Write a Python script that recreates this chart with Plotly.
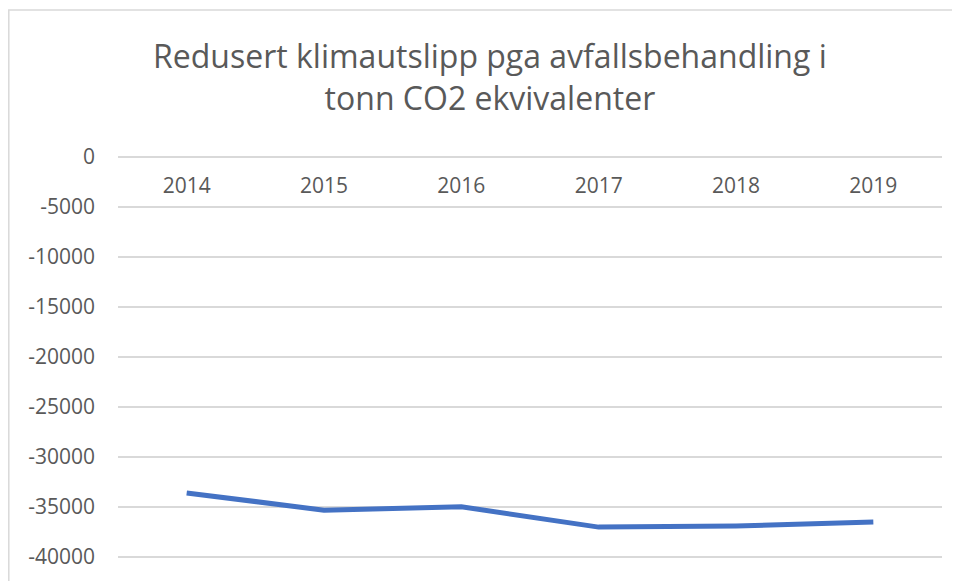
import plotly.graph_objects as go

years = ["2014", "2015", "2016", "2017", "2018", "2019"]
values = [-33640, -35370, -35030, -37060, -36960, -36560]
y_ticks = [0, -5000, -10000, -15000, -20000, -25000, -30000, -35000, -40000]
title_text = "Redusert klimautslipp pga avfallsbehandling i<br>tonn CO2 ekvivalenter"

W, H = 960, 581
L, R, T, B = 110, 26, 147, 31
pw = W - L - R
ph = H - T - B

fig = go.Figure()
fig.add_trace(go.Scatter(
    x=years, y=values, mode="lines",
    line=dict(color="#4472C4", width=5),
    hoverinfo="x+y", showlegend=False,
))

fig.update_layout(
    width=W, height=H,
    margin=dict(l=L, r=R, t=T, b=B),
    paper_bgcolor="white", plot_bgcolor="white",
    font=dict(family="Open Sans", color="#595959"),
    title=dict(text=title_text, x=0.502, xanchor="center", y=1 - 60 / H, yanchor="middle",
               font=dict(size=32, color="#595959", family="Open Sans")),
    xaxis=dict(
        type="category", range=[-0.5, 5.5], showgrid=False, zeroline=False,
        showline=False, ticks="", anchor="free", position=1, side="bottom",
        tickfont=dict(size=21, color="#595959"), ticklabelstandoff=16,
    ),
    yaxis=dict(
        range=[-40150, 150], tickvals=y_ticks, ticktext=[str(v) for v in y_ticks],
        showgrid=True, gridcolor="#D9D9D9", gridwidth=1.5, zeroline=False,
        showline=False, ticks="", tickfont=dict(size=21, color="#595959"),
        ticklabelstandoff=22,
    ),
    shapes=[dict(
        type="rect", xref="paper", yref="paper",
        x0=(0.8 - L) / pw, x1=(980 - L) / pw,
        y0=-0.2, y1=1 + (T - 2) / ph,
        line=dict(color="#D9D9D9", width=1.5), fillcolor="rgba(0,0,0,0)",
        layer="below",
    )],
)

fig.write_html("out.html")
